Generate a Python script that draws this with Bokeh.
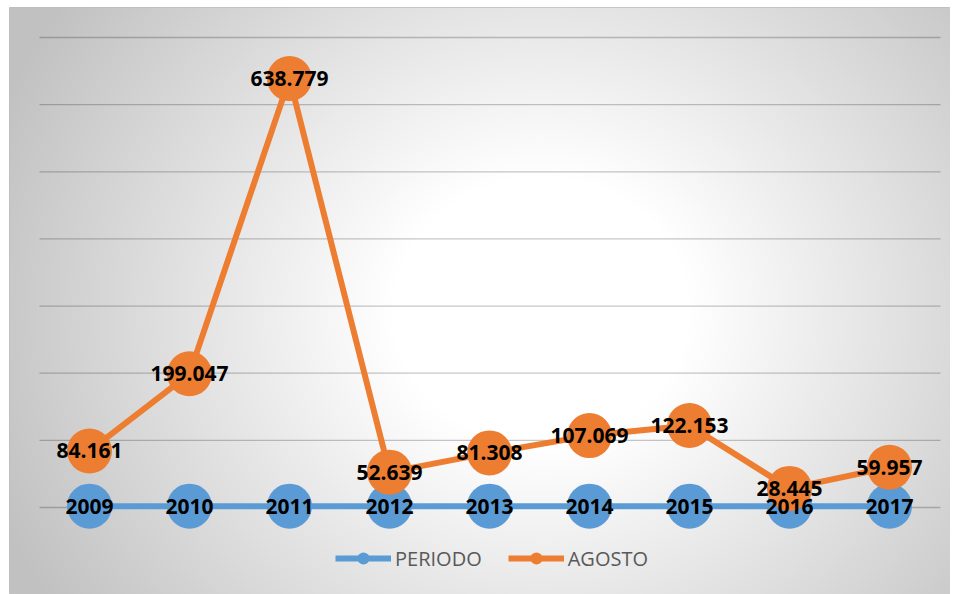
import numpy as np
from bokeh.plotting import figure
from bokeh.models import Range1d, Legend, LegendItem, ColumnDataSource
from bokeh.embed import file_html
from bokeh.resources import INLINE
from bokeh.core.properties import value

# ---- data ----
years = [2009, 2010, 2011, 2012, 2013, 2014, 2015, 2016, 2017]
periodo = [2009, 2010, 2011, 2012, 2013, 2014, 2015, 2016, 2017]
agosto = [84161, 199047, 638779, 52639, 81308, 107069, 122153, 28445, 59957]
grid_values = [0, 100000, 200000, 300000, 400000, 500000, 600000, 700000]
series_names = ["PERIODO", "AGOSTO"]

BLUE = "#5b9bd5"
ORANGE = "#ed7d31"

W, H = 950, 594
BL, BT = 9, 7
FW, FH = W - BL, H - BT
idx = list(range(len(years)))

p = figure(width=W, height=H, output_backend="svg", toolbar_location=None,
           x_range=Range1d(-0.80, 8.61), y_range=Range1d(-129580, 744680),
           min_border=0, min_border_left=BL, min_border_right=0,
           min_border_top=BT, min_border_bottom=0)
p.xaxis.visible = False
p.yaxis.visible = False
p.grid.visible = False
p.outline_line_color = "#bdbdbd"
p.outline_line_width = 1
p.background_fill_color = "#ffffff"
p.border_fill_color = "#ffffff"

# ---- radial gradient background ----
jj, ii = np.meshgrid(np.arange(FW), np.arange(FH))
px = BL + jj
py = BT + (FH - 1 - ii)
d = np.sqrt((px - 540.0) ** 2 + ((py - 310.0) * 1.1) ** 2)
frac = np.clip((d - 150.0) / 440.0, 0, 1)
g = (255 - frac * 62).astype(np.uint8)
img = np.empty((FH, FW), dtype=np.uint32)
view = img.view(dtype=np.uint8).reshape((FH, FW, 4))
view[:, :, 0] = g
view[:, :, 1] = g
view[:, :, 2] = g
view[:, :, 3] = 255
xr0, xr1 = p.x_range.start, p.x_range.end
yr0, yr1 = p.y_range.start, p.y_range.end
p.image_rgba(image=[img], x=xr0, y=yr0, dw=xr1 - xr0, dh=yr1 - yr0)

# ---- gridlines ----
n = len(years)
p.segment(x0=[-0.5] * len(grid_values), x1=[n - 0.49] * len(grid_values),
          y0=grid_values, y1=grid_values, line_color="black", line_alpha=0.22, line_width=1.3)

# ---- series ----
src_p = ColumnDataSource(dict(x=idx, y=periodo, lab=[str(v) for v in periodo]))
src_a = ColumnDataSource(dict(x=idx, y=agosto, lab=[f"{v:,}".replace(",", ".") for v in agosto]))

lp = p.line("x", "y", source=src_p, line_color=BLUE, line_width=6)
sp = p.scatter("x", "y", source=src_p, size=45, fill_color=BLUE, line_color=None)
la = p.line("x", "y", source=src_a, line_color=ORANGE, line_width=6)
sa = p.scatter("x", "y", source=src_a, size=45, fill_color=ORANGE, line_color=None)

for src in (src_p, src_a):
    p.text("x", "y", text="lab", source=src, text_font=value("Open Sans"),
           text_font_style="bold", text_font_size="21px", text_color="black",
           text_align="center", text_baseline="middle")

# ---- legend (legend-only renderers) ----
lg_items = []
for name, col in zip(series_names, [BLUE, ORANGE]):
    r1 = p.line(x=[np.nan, np.nan], y=[np.nan, np.nan], line_color=col, line_width=6)
    r2 = p.scatter(x=[np.nan], y=[np.nan], size=12, fill_color=col, line_color=None)
    lg_items.append(LegendItem(label=name, renderers=[r1, r2]))

legend = Legend(items=lg_items, orientation="horizontal", location=(326, 21),
                glyph_width=56, glyph_height=30, label_standoff=4, spacing=26,
                padding=0, margin=0, background_fill_alpha=0, border_line_color=None,
                label_text_font="Open Sans", label_text_font_size="20px",
                label_text_color="#595959")
p.add_layout(legend)

open("out.html", "w").write(file_html(p, INLINE))
